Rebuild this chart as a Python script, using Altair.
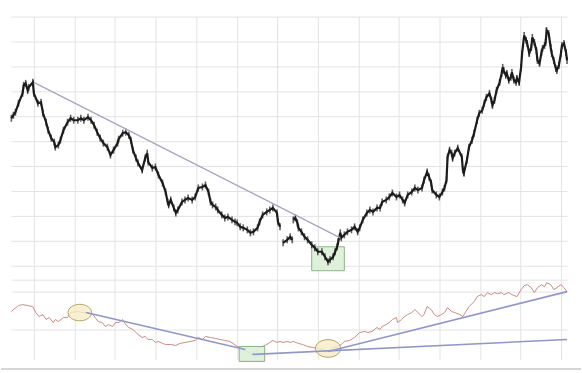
import altair as alt
import pandas as pd

# ---------------- data ----------------
# trading-day index and price of the upper panel
price_t = [-22, -20, -18, -15, -11, -10, -8, -6, -5, -1, 0, 4, 7, 9, 12, 14, 17, 20, 21, 24,
           26, 29, 33, 36, 39, 43, 46, 49, 53, 56, 59, 62, 65, 68, 72, 75, 78, 82, 83, 87,
           90, 93, 95, 97, 100, 102, 106, 109, 111, 112, 116, 119, 122, 126, 129, 131, 132, 134, 137, 139,
           141, 145, 148, 151, 155, 158, 161, 165, 168, 171, 173, 175, 178, 180, 184, 187, 190, 194, 197, 199,
           202, 205, 209, 212, 215, 219, 221, 224, 228, 231, 234, 238, 239, 241,
           244, 248, 251, 253,
           254, 256, 258, 259, 262, 265, 268, 272, 275, 278, 282, 285, 288, 290, 293, 295, 297, 298, 300, 301,
           304, 307, 311, 314, 317, 319, 322, 326, 329, 332, 336, 339, 341, 345, 348, 351, 355, 358, 361, 363,
           366, 370, 373, 376, 380, 382, 385, 387, 389, 390, 394, 397, 400, 402, 404, 405, 407, 409, 410, 412,
           415, 419, 420, 421, 424, 426, 429, 431, 434, 436, 439, 441, 443, 446, 448, 449, 451, 453, 456, 458,
           459, 460, 462, 463, 465, 467, 468, 470, 472, 473, 475, 477, 478, 480, 482, 483, 485, 487, 488, 490,
           492, 493, 495, 497, 498, 500, 501, 502, 504, 506, 507, 509, 511, 512, 514, 516, 517, 519, 521, 522]
price_p = [248, 251, 254, 263, 273, 281, 283, 276, 279, 284, 273, 263, 264, 253, 244, 236, 228, 224, 219, 221,
           226, 236, 244, 248, 246, 246, 248, 246, 249, 246, 241, 234, 228, 223, 219, 211, 216, 223, 227, 233,
           234, 231, 226, 216, 208, 203, 196, 208, 213, 204, 198, 199, 191, 183, 174, 164, 161, 166, 158, 153,
           156, 164, 166, 168, 166, 169, 178, 179, 181, 174, 164, 161, 159, 156, 151, 148, 149, 146, 144, 143,
           139, 138, 136, 133, 134, 138, 144, 151, 154, 156, 158, 153, 144, 139,
           123, 126, 129, 126,
           146, 148, 143, 138, 134, 129, 126, 121, 118, 114, 114, 109, 104, 106, 109, 114, 119, 124, 133, 128,
           131, 134, 136, 139, 134, 138, 146, 153, 156, 154, 158, 158, 164, 166, 169, 173, 169, 171, 166, 163,
           171, 174, 178, 176, 178, 186, 194, 189, 183, 176, 171, 169, 174, 178, 186, 209, 216, 213, 208, 213,
           218, 209, 196, 193, 206, 219, 226, 233, 246, 253, 256, 263, 269, 273, 266, 261, 266, 276, 284, 293,
           299, 296, 291, 293, 286, 289, 294, 286, 284, 288, 284, 299, 313, 331, 326, 323, 313, 319, 329, 324,
           316, 306, 303, 314, 318, 321, 324, 336, 333, 319, 313, 306, 298, 296, 301, 313, 321, 323, 314, 306]
price_gaps_after = [241, 253]

# indicator of the lower panel
ind_t = [-22, -20, -15, -11, -6, -1, 2, 5, 9, 12, 15, 19, 21, 24, 29, 33, 36, 43, 48, 53,
         58, 60, 63, 67, 70, 73, 77, 80, 83, 87, 90, 93, 97, 100, 102, 106, 109, 112, 116, 119,
         122, 126, 129, 134, 139, 143, 148, 153, 158, 161, 165, 168, 173, 178, 182, 187, 192, 195, 199, 202,
         207, 210, 214, 217, 220, 224, 228, 231, 234, 238, 241, 244, 248, 251, 254, 259, 263, 268, 273, 278,
         283, 288, 293, 298, 301, 304, 309, 314, 319, 324, 327, 331, 336, 339, 341, 345, 348, 351, 355, 356,
         360, 363, 366, 370, 373, 376, 380, 382, 385, 389, 392, 395, 399, 402, 405, 409, 412, 417, 420, 423,
         426, 431, 434, 438, 441, 444, 448, 451, 454, 458, 460, 465, 468, 473, 477, 480, 483, 487, 490, 493,
         497, 500, 502, 506, 509, 512, 516, 519, 522]
ind_q = [48, 50, 54, 55, 54, 53, 47, 43, 45, 40, 42, 37, 40, 38, 42, 42, 47, 48, 47, 47,
         45, 42, 38, 37, 33, 35, 33, 37, 37, 40, 35, 32, 30, 27, 25, 22, 23, 20, 20, 17,
         18, 16, 15, 15, 14, 16, 17, 18, 19, 22, 20, 23, 22, 21, 20, 19, 18, 16, 13, 12,
         10, 7, 5, 8, 12, 13, 15, 17, 19, 17, 18, 17, 18, 17, 18, 16, 15, 13, 12, 11,
         10, 8, 12, 13, 15, 18, 19, 22, 27, 28, 27, 28, 32, 30, 33, 35, 37, 40, 42, 37,
         40, 43, 45, 47, 50, 47, 43, 45, 53, 50, 45, 43, 45, 47, 52, 48, 47, 45, 43, 48,
         53, 58, 63, 65, 63, 67, 65, 67, 66, 67, 65, 67, 65, 63, 70, 74, 75, 72, 67, 72,
         75, 73, 77, 75, 70, 72, 75, 72, 68]

# annotations
trend_top_t = [0, 300]
trend_top_p = [284, 128]
box_top = {"t": 272, "t2": 304, "p": 119, "p2": 95}
ind_line1_t = [51, 207]
ind_line1_q = [47, 10]
ind_line2_t = [214, 522]
ind_line2_q = [5, 20]
ind_line3_t = [288, 522]
ind_line3_q = [8, 68]
box_low = {"t": 201, "t2": 226, "q": 13, "q2": -2}
ellipse1 = {"t": 45, "q": 47}
ellipse2 = {"t": 288, "q": 11}

x_grid = [0, 40, 79, 119, 159, 199, 238, 278, 318, 357, 397, 437, 476, 516]
y_grid_top = [100, 125, 150, 175, 200, 225, 250, 275, 300, 325, 350]
y_grid_low = [30, 68, 80]

# ---------------- frames ----------------
seg = [sum(t > g for g in price_gaps_after) for t in price_t]
price_df = pd.DataFrame({"t": price_t, "p": price_p, "seg": seg})
ind_df = pd.DataFrame({"t": ind_t, "q": ind_q})
trend_df = pd.DataFrame({"t": trend_top_t, "p": trend_top_p})
l1 = pd.DataFrame({"t": ind_line1_t, "q": ind_line1_q, "k": "a"})
l2 = pd.DataFrame({"t": ind_line2_t, "q": ind_line2_q, "k": "b"})
l3 = pd.DataFrame({"t": ind_line3_t, "q": ind_line3_q, "k": "c"})
lines_low = pd.concat([l1, l2, l3])

W, H1, H2 = 558, 256, 88
xs = alt.Scale(domain=[-22.4, 522], nice=False, zero=False)
ys1 = alt.Scale(domain=[94, 350], nice=False, zero=False)
ys2 = alt.Scale(domain=[0, 88], nice=False, zero=False)


def ax(vals):
    return alt.Axis(values=vals, grid=True, labels=False, ticks=False, domain=False, title=None)


X = lambda f="t:Q": alt.X(f, scale=xs, axis=ax(x_grid))
Y1 = lambda f="p:Q": alt.Y(f, scale=ys1, axis=ax(y_grid_top))
Y2 = lambda f="q:Q": alt.Y(f, scale=ys2, axis=ax(y_grid_low))

GRID = "#e3e3e3"
BLUE = "#8f98c8"

# ---------------- top panel ----------------
price_line = alt.Chart(price_df).mark_line(color="#1c1c1c", strokeWidth=2.2).encode(
    x=X(), y=Y1(), detail="seg:N")
price_bars = alt.Chart(price_df).mark_tick(
    orient="vertical", color="#1c1c1c", size=7, thickness=1.6).encode(x=X(), y=Y1())
trend = alt.Chart(trend_df).mark_line(color="#a3a6c4", strokeWidth=1.3).encode(x=X(), y=Y1())
box1 = alt.Chart(pd.DataFrame([box_top])).mark_rect(
    fill="#dcefd8", stroke="#86ad80", strokeWidth=1, opacity=0.9).encode(
    x=X(), x2="t2:Q", y=Y1(), y2="p2:Q")

top = alt.layer(box1, price_line, price_bars, trend).properties(width=W, height=H1)

# ---------------- bottom panel ----------------
ell_shape = "M -1 0 A 1 0.7 0 1 0 1 0 A 1 0.7 0 1 0 -1 0 Z"
ind_line = alt.Chart(ind_df).mark_line(color="#cd8a82", strokeWidth=1).encode(x=X(), y=Y2())
blue = alt.Chart(lines_low).mark_line(color=BLUE, strokeWidth=1.6).encode(
    x=X(), y=Y2(), detail="k:N")
box2 = alt.Chart(pd.DataFrame([box_low])).mark_rect(
    fill="#dcefd8", stroke="#7fa878", strokeWidth=1, opacity=0.9).encode(
    x=X(), x2="t2:Q", y=Y2(), y2="q2:Q")
e1 = alt.Chart(pd.DataFrame([ellipse1])).mark_point(
    shape=ell_shape, size=560, filled=True, fill="#f6edc6", fillOpacity=0.8,
    stroke="#b3a46a", strokeWidth=1, opacity=1).encode(x=X(), y=Y2())
e2 = alt.Chart(pd.DataFrame([ellipse2])).mark_point(
    shape=ell_shape, size=640, filled=True, fill="#f6edc6", fillOpacity=0.8,
    stroke="#b3a46a", strokeWidth=1, opacity=1).encode(x=X(), y=Y2())
sep = alt.Chart(ind_df).mark_rule(color="#d6d6d6", strokeWidth=1.5).encode(
    x=alt.value(-10), x2=alt.value(572), y=alt.value(98))

bottom = alt.layer(ind_line, box2, e1, e2, blue, sep).properties(width=W, height=H2)

chart = alt.vconcat(top, bottom, spacing=0).properties(
    padding={"left": 0, "top": 16, "right": 0, "bottom": 0}
).configure_view(stroke=None).configure_axis(gridColor=GRID, gridWidth=1)

chart.save("out.html", embed_options={"renderer": "svg", "actions": False})
